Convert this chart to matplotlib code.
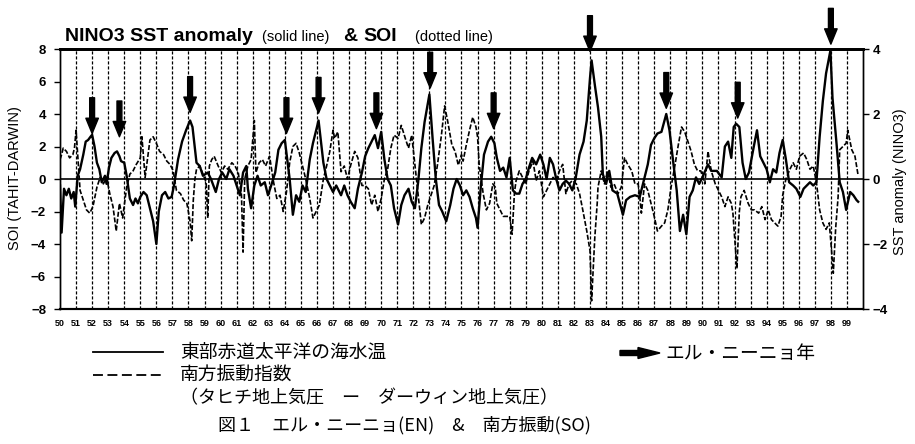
import numpy as np
import matplotlib
matplotlib.use("Agg")
import matplotlib.pyplot as plt
from matplotlib.lines import Line2D
from matplotlib.patches import FancyArrow

plt.rcParams['font.family'] = ['Liberation Sans', 'Noto Sans CJK JP']

# NINO3 SST anomaly (deg C): time (year) / value
sst_t = [1950.0, 1950.1, 1950.25, 1950.4, 1950.55, 1950.7, 1950.85, 1950.95,
         1951.1, 1951.25, 1951.45, 1951.6, 1951.75, 1951.9, 1952.0, 1952.15,
         1952.3, 1952.45, 1952.6, 1952.8, 1952.9, 1953.05, 1953.2, 1953.4,
         1953.55, 1953.7, 1953.8, 1954.0, 1954.15, 1954.35, 1954.55, 1954.7,
         1954.85, 1955.0, 1955.2, 1955.4, 1955.6, 1955.8, 1956.0, 1956.15,
         1956.35, 1956.55, 1956.75, 1956.95, 1957.1, 1957.35, 1957.6, 1957.85,
         1958.1, 1958.25, 1958.5, 1958.7, 1958.9, 1959.2, 1959.4, 1959.7,
         1959.9, 1960.1, 1960.35, 1960.55, 1960.8, 1961.0, 1961.2, 1961.4,
         1961.6, 1961.7, 1961.9, 1962.1, 1962.3, 1962.5, 1962.75, 1962.95,
         1963.15, 1963.4, 1963.6, 1963.8, 1964.0, 1964.3, 1964.5, 1964.7,
         1964.9, 1965.1, 1965.3, 1965.55, 1965.75, 1965.95, 1966.1, 1966.4,
         1966.6, 1966.8, 1967.0, 1967.2, 1967.5, 1967.7, 1967.9, 1968.1,
         1968.35, 1968.55, 1968.8, 1969.0, 1969.2, 1969.4, 1969.6, 1969.8,
         1970.0, 1970.2, 1970.4, 1970.6, 1970.8, 1971.05, 1971.25, 1971.45,
         1971.7, 1971.9, 1972.1, 1972.3, 1972.5, 1972.7, 1973.0, 1973.2,
         1973.4, 1973.6, 1973.8, 1974.05, 1974.3, 1974.5, 1974.7, 1974.9,
         1975.1, 1975.3, 1975.5, 1975.7, 1975.9, 1976.0, 1976.2, 1976.4,
         1976.65, 1976.85, 1977.05, 1977.2, 1977.4, 1977.6, 1977.8, 1978.0,
         1978.2, 1978.4, 1978.6, 1978.8, 1979.0, 1979.2, 1979.4, 1979.65,
         1979.9, 1980.1, 1980.3, 1980.5, 1980.7, 1980.9, 1981.1, 1981.3,
         1981.5, 1981.7, 1981.9, 1982.1, 1982.35, 1982.6, 1982.8, 1983.0,
         1983.1, 1983.3, 1983.5, 1983.7, 1983.8, 1984.0, 1984.2, 1984.4,
         1984.7, 1985.05, 1985.25, 1985.5, 1985.8, 1986.1, 1986.4, 1986.6,
         1986.8, 1987.0, 1987.2, 1987.45, 1987.75, 1987.95, 1988.2, 1988.4,
         1988.6, 1988.8, 1989.0, 1989.2, 1989.4, 1989.6, 1989.8, 1990.0,
         1990.35, 1990.55, 1990.9, 1991.2, 1991.4, 1991.6, 1991.8, 1991.95,
         1992.1, 1992.3, 1992.5, 1992.7, 1992.9, 1993.2, 1993.4, 1993.6,
         1993.8, 1994.0, 1994.2, 1994.4, 1994.6, 1994.8, 1995.0, 1995.2,
         1995.4, 1995.65, 1995.85, 1996.1, 1996.3, 1996.5, 1996.7, 1996.9,
         1997.1, 1997.3, 1997.5, 1997.7, 1997.97, 1998.1, 1998.35, 1998.55,
         1998.75, 1998.95, 1999.2, 1999.4, 1999.6, 1999.7]
sst_v = [-0.2, -1.65, -0.3, -0.5, -0.3, -0.6, -0.4, -0.85,
         0.1, 0.3, 0.75, 1.15, 1.2, 1.3, 1.36, 1.0,
         0.5, 0.3, -0.1, 0.1, -0.15, 0.35, 0.65, 0.8,
         0.85, 0.7, 0.55, 0.5, 0.1, -0.6, -0.8, -0.6,
         -0.75, -0.55, -0.4, -0.5, -0.9, -1.3, -2.0, -1.0,
         -0.5, -0.4, -0.6, -0.55, -0.2, 0.6, 1.15, 1.5,
         1.8, 1.6, 0.5, 0.4, 0.1, 0.2, 0.0, -0.4,
         0.0, 0.2, 0.0, 0.3, 0.1, -0.2, -0.5, 0.2,
         0.4, -0.3, -0.9, -0.2, 0.1, -0.2, -0.1, -0.5,
         -0.2, 0.2, 0.9, 1.1, 1.2, 0.0, -1.1, -0.5,
         -0.7, -0.2, -0.4, 0.6, 1.1, 1.5, 1.8, 0.5,
         0.0, -0.2, -0.4, -0.2, -0.5, -0.2, -0.5, -0.7,
         -0.9, -0.3, 0.2, 0.7, 0.95, 1.15, 1.35, 0.95,
         1.45, 0.6, 0.0, -0.2, -0.9, -1.4, -0.8, -0.5,
         -0.3, -0.7, -0.9, -0.1, 0.95, 1.75, 2.6, 1.25,
         0.0, -0.8, -1.0, -1.3, -0.8, -0.3, 0.0, -0.2,
         -0.5, -0.35, -0.55, -0.9, -1.2, -1.5, -0.25, 0.75,
         1.15, 1.3, 1.1, 0.65, 0.25, 0.35, 0.05, 0.65,
         -0.35, -0.45, -0.45, -0.15, 0.0, 0.35, 0.65, 0.45,
         0.75, 0.45, 0.0, 0.65, 0.45, 0.0, -0.35, -0.15,
         -0.05, -0.15, -0.35, 0.0, 0.75, 1.15, 1.8, 3.1,
         3.65, 2.9, 2.2, 1.3, 0.15, -0.15, 0.25, -0.35,
         -0.45, -1.1, -0.65, -0.55, -0.5, -0.55, 0.05, 0.45,
         1.05, 1.25, 1.4, 1.45, 2.0, 1.5, 0.45, -0.35,
         -1.6, -1.1, -1.7, -0.55, -0.35, 0.05, -0.15, 0.05,
         0.45, 0.25, 0.25, 0.05, 1.0, 1.15, 0.65, 1.6,
         1.7, 1.6, 0.5, 0.0, 0.2, 1.0, 1.5, 0.7,
         0.5, 0.3, -0.1, 0.3, 0.2, 0.8, 1.2, 0.6,
         -0.1, -0.2, -0.3, -0.55, -0.3, -0.2, -0.1, -0.2,
         -0.1, 1.3, 2.4, 3.25, 3.95, 2.5, 1.1, -0.1,
         -0.4, -0.95, -0.4, -0.5, -0.65, -0.7]

# SOI (Tahiti - Darwin): time (year) / value
soi_t = [1950.0, 1950.1, 1950.2, 1950.4, 1950.6, 1950.8, 1950.9, 1951.0,
         1951.25, 1951.45, 1951.65, 1951.85, 1952.05, 1952.3, 1952.5, 1952.7,
         1952.9, 1953.1, 1953.3, 1953.5, 1953.7, 1953.9, 1954.15, 1954.35,
         1954.55, 1954.75, 1955.0, 1955.1, 1955.3, 1955.6, 1955.8, 1956.0,
         1956.2, 1956.45, 1956.65, 1956.85, 1957.05, 1957.25, 1957.5, 1957.7,
         1957.9, 1958.1, 1958.2, 1958.3, 1958.4, 1958.5, 1958.7, 1958.9,
         1959.1, 1959.2, 1959.3, 1959.45, 1959.6, 1959.85, 1960.05, 1960.25,
         1960.45, 1960.7, 1960.9, 1961.1, 1961.3, 1961.4, 1961.5, 1961.7,
         1961.9, 1962.1, 1962.2, 1962.4, 1962.6, 1962.8, 1963.05, 1963.3,
         1963.5, 1963.7, 1963.9, 1964.1, 1964.3, 1964.5, 1964.7, 1964.9,
         1965.1, 1965.3, 1965.55, 1965.75, 1965.95, 1966.15, 1966.4, 1966.6,
         1966.8, 1967.0, 1967.1, 1967.3, 1967.5, 1967.7, 1967.9, 1968.1,
         1968.35, 1968.55, 1968.8, 1969.0, 1969.2, 1969.4, 1969.6, 1969.8,
         1970.0, 1970.2, 1970.4, 1970.6, 1970.8, 1971.05, 1971.25, 1971.5,
         1971.7, 1971.9, 1972.1, 1972.3, 1972.5, 1972.7, 1972.9, 1973.1,
         1973.3, 1973.5, 1973.75, 1973.95, 1974.15, 1974.4, 1974.6, 1974.8,
         1975.0, 1975.1, 1975.3, 1975.5, 1975.7, 1975.9, 1976.0, 1976.1,
         1976.35, 1976.55, 1976.75, 1976.95, 1977.1, 1977.2, 1977.4, 1977.6,
         1977.8, 1978.0, 1978.15, 1978.3, 1978.4, 1978.6, 1978.8, 1979.0,
         1979.2, 1979.45, 1979.65, 1979.85, 1980.1, 1980.3, 1980.5, 1980.7,
         1980.9, 1981.1, 1981.3, 1981.5, 1981.7, 1981.9, 1982.15, 1982.35,
         1982.55, 1982.8, 1983.0, 1983.1, 1983.3, 1983.45, 1983.5, 1983.7,
         1983.9, 1984.1, 1984.3, 1984.5, 1984.75, 1984.95, 1985.15, 1985.35,
         1985.6, 1985.8, 1986.0, 1986.1, 1986.2, 1986.4, 1986.6, 1986.8,
         1987.0, 1987.2, 1987.45, 1987.65, 1987.85, 1988.05, 1988.3, 1988.5,
         1988.7, 1988.9, 1989.1, 1989.3, 1989.5, 1989.7, 1989.9, 1990.15,
         1990.35, 1990.55, 1990.8, 1991.0, 1991.2, 1991.4, 1991.6, 1991.8,
         1991.9, 1992.0, 1992.15, 1992.3, 1992.4, 1992.6, 1992.85, 1993.05,
         1993.25, 1993.5, 1993.7, 1993.9, 1994.1, 1994.3, 1994.5, 1994.7,
         1994.9, 1995.0, 1995.2, 1995.45, 1995.65, 1995.85, 1996.05, 1996.3,
         1996.5, 1996.7, 1996.9, 1997.1, 1997.3, 1997.5, 1997.7, 1997.9,
         1998.05, 1998.15, 1998.3, 1998.45, 1998.55, 1998.75, 1998.95, 1999.05,
         1999.3, 1999.5, 1999.7]
soi_v = [1.2, 1.5, 1.9, 1.7, 1.3, 1.5, 1.9, 3.0,
         -0.7, -1.3, -1.9, -2.1, -1.7, -0.5, 0.1, -0.3,
         0.1, -0.9, -1.7, -3.2, -1.5, -2.4, -0.5, 0.3,
         0.5, 0.9, 1.3, 2.6, 0.1, 2.4, 2.6, 2.2,
         1.7, 1.5, 1.1, 0.9, 0.5, -0.7, -0.9, -1.3,
         -1.5, -2.6, -3.8, -1.3, 0.0, 0.6, 0.8, 0.3,
         -0.2, -2.4, 0.8, 1.2, 1.4, 0.8, 0.4, 0.8,
         0.6, 1.0, 0.8, 0.4, -1.0, -4.5, 0.0, 0.8,
         1.2, 3.6, 0.4, 1.0, 1.2, 0.8, 1.4, -0.2,
         -1.2, -1.0, -2.0, -0.8, 1.0, 2.0, 2.2, 1.6,
         0.8, 0.0, -1.2, -2.4, -2.0, -1.6, 0.0, 0.8,
         1.7, 3.0, 2.5, 2.9, 0.45, 0.8, 0.0, 0.85,
         1.7, 1.3, -0.4, -0.4, -0.6, -1.6, -1.0, -2.0,
         -1.2, 0.0, 0.6, 1.9, 2.7, 2.5, 3.3, 2.5,
         1.9, 2.7, 0.85, -1.0, -2.8, -2.4, -1.6, -1.0,
         -0.4, 0.85, 2.7, 4.5, 3.5, 2.1, 1.7, 0.85,
         1.5, 1.1, 2.1, 3.0, 3.8, 3.2, 2.6, 0.9,
         -0.9, -1.9, -1.5, -0.3, -0.5, -1.5, -1.9, -2.3,
         -2.3, -2.3, -3.4, -0.8, -0.1, 0.5, 0.1, -0.3,
         0.5, 1.1, -0.1, 0.5, -1.1, -0.7, -0.3, 0.1,
         -0.1, 0.5, 0.9, -0.9, -0.3, -0.1, -0.3, -0.9,
         -1.9, -3.2, -4.4, -7.5, -3.6, -1.5, -0.5, 0.5,
         -0.3, 0.5, -0.5, -0.3, -0.9, -0.5, 1.3, 0.9,
         0.5, -0.3, -0.3, -1.1, -2.1, -0.3, -0.7, -1.5,
         -2.3, -3.2, -2.9, -2.7, -1.9, -0.5, 0.9, 2.1,
         3.2, 2.9, 2.3, 1.7, 0.9, 0.5, 0.5, -0.3,
         1.7, 0.5, -0.3, -0.7, -1.1, -1.7, -1.1, -1.5,
         -2.1, -3.5, -5.5, -2.0, -1.1, -0.7, -1.5, -1.9,
         -1.9, -2.1, -1.7, -2.5, -1.9, -2.5, -2.7, -2.9,
         -2.3, -1.0, 0.0, 0.6, 1.0, 0.6, 1.4, 1.6,
         1.2, 0.6, 0.8, -0.2, -1.9, -2.7, -3.1, -2.7,
         -4.5, -5.8, -3.0, -1.1, 1.8, 2.0, 2.2, 3.0,
         1.8, 1.4, 0.2]

# El Nino years (arrows) and arrow tip height on the SOI scale
en_years = [1952.0, 1953.7, 1958.1, 1964.1, 1966.1, 1969.7, 1973.05, 1977.0,
            1983.0, 1987.75, 1992.2, 1998.0]
en_tips = [2.8, 2.6, 4.1, 2.8, 4.05, 3.1, 5.6, 3.1, 7.85, 4.35, 3.75, 8.3]

years = list(range(1950, 2000))
year_labels = ['%02d' % (y % 100) for y in years]

W, H = 915, 444
fig = plt.figure(figsize=(W / 100, H / 100), dpi=100)
ax = fig.add_axes([60 / W, 1 - 309 / H, 803 / W, 260 / H])

for y in years[1:]:
    ax.axvline(y, color='k', lw=0.9, ls=(0, (2.5, 1.5)), zorder=1)
ax.axhline(0, color='k', lw=1.2, zorder=2)

ax.plot(soi_t, soi_v, color='k', lw=1.2, ls=(0, (3, 1.2)), zorder=3)
ax.set_xlim(1950, 2000)
ax.set_ylim(-8, 8)
ax.set_yticks(range(-8, 9, 2))
ax.set_xticks(years)
ax.set_xticklabels(year_labels, fontsize=6.5, fontweight='bold')
ax.tick_params(axis='x', length=0, pad=7)
ax.tick_params(axis='y', length=4, width=1, pad=6, labelsize=9.5)
for lab in ax.get_yticklabels():
    lab.set_fontweight('bold')

ax2 = ax.twinx()
ax2.plot(sst_t, sst_v, color='k', lw=1.7, zorder=4)
ax2.set_ylim(-4, 4)
ax2.set_yticks(range(-4, 5, 2))
ax2.tick_params(axis='y', length=4, width=1, pad=3, labelsize=9.5)
for lab in ax2.get_yticklabels():
    lab.set_fontweight('bold')

for a in (ax, ax2):
    a.spines['top'].set_linewidth(2.0)
    a.spines['bottom'].set_linewidth(1.5)
    a.spines['left'].set_linewidth(1.0)
    a.spines['right'].set_linewidth(1.0)

for yr, tip in zip(en_years, en_tips):
    ax.annotate('', xy=(yr, tip), xytext=(yr, tip + 2.2), annotation_clip=False,
                arrowprops=dict(facecolor='black', edgecolor='black', width=3.5,
                                headwidth=9, headlength=11, shrink=0))


def fx(px):
    return px / W


def fy(py):
    return 1 - py / H


# title pieces
fig.text(fx(65), fy(41), 'NINO3 SST anomaly', fontsize=14, fontweight='bold', va='baseline')
fig.text(fx(262), fy(41), '(solid line)', fontsize=10.5, va='baseline')
fig.text(fx(343), fy(41), '&', fontsize=14, fontweight='bold', va='baseline')
fig.text(fx(363), fy(41), 'SOI', fontsize=14, fontweight='bold', va='baseline')
fig.text(fx(415), fy(41), '(dotted line)', fontsize=10.5, va='baseline')

fig.text(fx(15), fy(178), 'SOI (TAHIT-DARWIN)', rotation=90, fontsize=10.5,
         ha='center', va='center')
fig.text(fx(900), fy(182), 'SST anomaly (NINO3)', rotation=90, fontsize=10.5,
         ha='center', va='center')

# legend block
fig.add_artist(Line2D([fx(93), fx(163)], [fy(352), fy(352)], color='k', lw=1.3))
fig.add_artist(Line2D([fx(93), fx(163)], [fy(375), fy(375)], color='k', lw=1.3,
                      dashes=(5.5, 2.5)))
jp = ['Noto Sans CJK JP']
fig.text(fx(180), fy(352), '東部赤道太平洋の海水温', fontsize=13.5, family=jp, va='center')
fig.text(fx(180), fy(375), '南方振動指数', fontsize=13.5, family=jp, va='center')
fig.text(fx(180), fy(398), '（タヒチ地上気圧　ー　ダーウィン地上気圧）', fontsize=13,
         family=jp, va='center')
fig.text(fx(218), fy(425), '図１　エル・ニーニョ(EN)　&　南方振動(SO)', fontsize=13,
         family=jp, va='center')
fig.text(fx(665), fy(353), 'エル・ニーニョ年', fontsize=13.5, family=jp, va='center')
fig.add_artist(FancyArrow(fx(620), fy(353), fx(40), 0, width=5 / H, head_width=11 / H,
                          head_length=fx(22), length_includes_head=True, color='k',
                          transform=fig.transFigure))

fig.savefig('out.png', dpi=100)
